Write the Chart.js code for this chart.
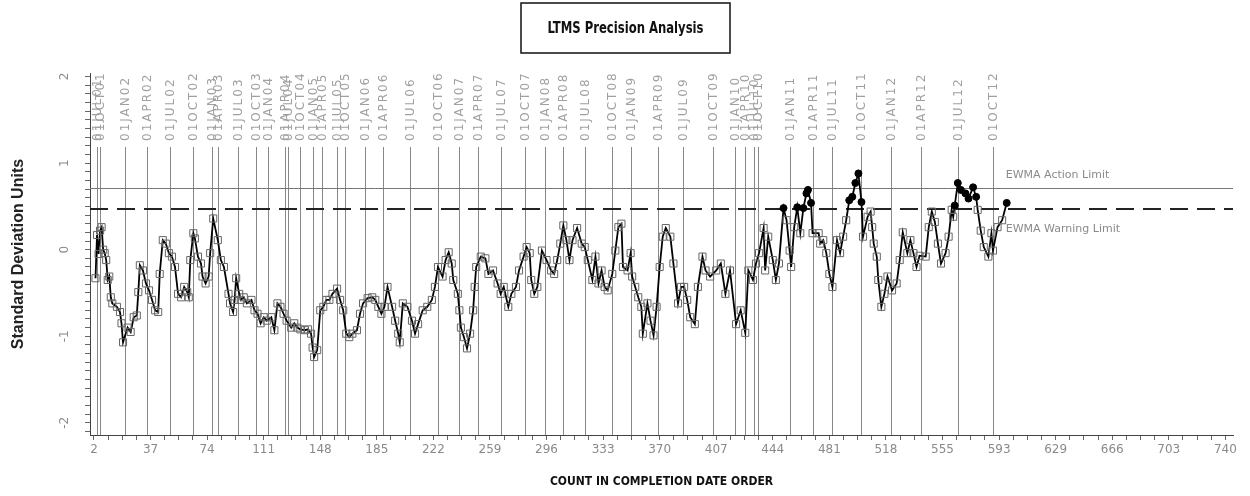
<!DOCTYPE html>
<html>
<head>
<meta charset="utf-8">
<script src="https://cdn.jsdelivr.net/npm/chart.js@4.4.0/dist/chart.umd.min.js"></script>
<style>
  html, body { margin: 0; padding: 0; background: #fff; }
  #wrap { width: 1250px; height: 496px; }
</style>
</head>
<body>
<div id="wrap"><canvas id="myChart" width="1250" height="496"></canvas></div>
<script>
// Conteo en orden de fecha de finalización
const counts = [1, 2, 3, 4, 5, 6, 7, 8, 9, 10, 11, 12, 15, 17, 18, 19, 22, 24, 26, 28,
  29, 30, 32, 34, 36, 38, 40, 42, 43, 45, 47, 49, 51, 53, 55, 57, 59, 61, 62, 63,
  65, 66, 68, 70, 71, 73, 75, 76, 78, 81, 83, 85, 88, 89, 91, 92, 93, 95, 96, 98,
  100, 103, 105, 107, 109, 111, 113, 116, 118, 120, 122, 124, 126, 129, 131, 133, 135, 138, 140, 142,
  143, 144, 146, 148, 150, 152, 154, 156, 159, 161, 163, 165, 167, 169, 172, 174, 176, 179, 182, 184,
  186, 188, 190, 192, 195, 197, 199, 200, 202, 205, 208, 210, 212, 215, 218, 221, 223, 225, 228, 230,
  232, 234, 235, 238, 239, 240, 242, 244, 246, 248, 249, 250, 253, 256, 258, 261, 264, 266, 268, 271,
  273, 276, 278, 281, 283, 285, 286, 288, 290, 293, 296, 299, 301, 303, 305, 307, 309, 311, 313, 316,
  319, 321, 323, 326, 328, 330, 332, 334, 336, 339, 341, 343, 345, 346, 349, 351, 352, 354, 356, 358,
  359, 362, 364, 366, 368, 370, 372, 374, 377, 379, 382, 384, 386, 388, 390, 393, 395, 398, 400, 403,
  407, 410, 413, 416, 420, 423, 426, 428, 431, 433, 435, 438, 439, 441, 444, 446, 448, 451, 453, 455,
  456, 458, 460, 462, 464, 466, 467, 469, 470, 474, 475, 477, 479, 481, 483, 486, 488, 490, 492, 494,
  496, 498, 500, 502, 503, 506, 508, 509, 510, 512, 513, 515, 517, 519, 522, 525, 527, 529, 532, 534,
  536, 538, 540, 544, 546, 548, 550, 552, 554, 557, 559, 561, 562, 563, 565, 567, 570, 572, 575, 577,
  578, 580, 582, 585, 587, 588, 591, 594, 597];

// Valores EWMA (unidades de desviación estándar)
const values = [-0.33, 0.17, -0.05, 0.22, 0.26, 0.0, -0.04, -0.12, -0.35, -0.31, -0.55, -0.62, -0.66, -0.72, -0.85, -1.07, -0.9, -0.95, -0.78, -0.76,
  -0.49, -0.18, -0.24, -0.39, -0.47, -0.58, -0.7, -0.72, -0.28, 0.11, 0.07, -0.04, -0.08, -0.2, -0.51, -0.55, -0.43, -0.49, -0.55, -0.12,
  0.19, 0.13, -0.08, -0.16, -0.31, -0.39, -0.31, -0.04, 0.36, 0.11, -0.12, -0.2, -0.51, -0.62, -0.72, -0.58, -0.33, -0.51, -0.58, -0.55,
  -0.62, -0.58, -0.7, -0.74, -0.85, -0.78, -0.82, -0.78, -0.93, -0.62, -0.66, -0.74, -0.82, -0.9, -0.85, -0.9, -0.92, -0.93, -0.92, -0.97,
  -1.13, -1.24, -1.16, -0.7, -0.66, -0.58, -0.58, -0.51, -0.45, -0.58, -0.7, -0.97, -1.01, -0.97, -0.93, -0.74, -0.62, -0.56, -0.55, -0.58,
  -0.66, -0.74, -0.66, -0.43, -0.66, -0.82, -0.97, -1.07, -0.62, -0.66, -0.82, -0.97, -0.86, -0.7, -0.66, -0.58, -0.43, -0.2, -0.31, -0.12,
  -0.03, -0.16, -0.35, -0.51, -0.7, -0.9, -1.01, -1.14, -0.97, -0.7, -0.43, -0.2, -0.08, -0.1, -0.28, -0.24, -0.39, -0.51, -0.43, -0.66,
  -0.51, -0.43, -0.24, -0.08, 0.03, -0.04, -0.35, -0.51, -0.43, -0.01, -0.12, -0.24, -0.28, -0.12, 0.07, 0.28, 0.11, -0.12, 0.11, 0.25,
  0.07, 0.03, -0.12, -0.35, -0.08, -0.39, -0.24, -0.43, -0.47, -0.28, -0.01, 0.26, 0.3, -0.2, -0.24, -0.04, -0.31, -0.43, -0.55, -0.66,
  -0.97, -0.62, -0.82, -0.99, -0.66, -0.2, 0.15, 0.25, 0.15, -0.16, -0.62, -0.43, -0.43, -0.58, -0.78, -0.86, -0.43, -0.08, -0.24, -0.31,
  -0.24, -0.16, -0.51, -0.24, -0.86, -0.7, -0.96, -0.24, -0.35, -0.16, -0.04, 0.25, -0.24, 0.15, -0.12, -0.35, -0.16, 0.48, 0.34, -0.01,
  -0.2, 0.26, 0.49, 0.19, 0.48, 0.65, 0.69, 0.54, 0.19, 0.19, 0.07, 0.11, -0.04, -0.28, -0.43, 0.11, -0.04, 0.15, 0.34, 0.57,
  0.61, 0.77, 0.88, 0.55, 0.15, 0.38, 0.44, 0.26, 0.07, -0.08, -0.35, -0.66, -0.51, -0.31, -0.47, -0.39, -0.12, 0.2, -0.04, 0.11,
  -0.04, -0.2, -0.07, -0.08, 0.26, 0.44, 0.32, 0.07, -0.16, -0.04, 0.15, 0.46, 0.38, 0.51, 0.77, 0.69, 0.65, 0.59, 0.72, 0.61,
  0.46, 0.22, 0.03, -0.08, 0.19, -0.01, 0.26, 0.34, 0.54];

// Fechas de referencia (líneas verticales)
const dateCounts = [2, 4, 20, 35, 50, 65, 77, 81, 94, 106, 114, 125, 127, 135, 143, 149, 159, 164, 177, 189,
  207, 225, 239, 251, 266, 282, 295, 307, 321, 339, 351, 369, 385, 405, 419, 426, 432, 434, 455, 470,
  483, 502, 521, 541, 565, 588];
const dateLabels = ["01JUL01", "01OCT01", "01JAN02", "01APR02", "01JUL02", "01OCT02", "01JAN03", "01APR03", "01JUL03", "01OCT03",
  "01JAN04", "01APR04", "01JUL04", "01OCT04", "01JAN05", "01APR05", "01JUL05", "01OCT05", "01JAN06", "01APR06",
  "01JUL06", "01OCT06", "01JAN07", "01APR07", "01JUL07", "01OCT07", "01JAN08", "01APR08", "01JUL08", "01OCT08",
  "01JAN09", "01APR09", "01JUL09", "01OCT09", "01JAN10", "01APR10", "01JUL10", "01OCT10", "01JAN11", "01APR11",
  "01JUL11", "01OCT11", "01JAN12", "01APR12", "01JUL12", "01OCT12"];

// Etiquetas del eje X (cada 37)
const xTickLabels = ["2", "37", "74", "111", "148", "185", "222", "259", "296", "333", "370",
  "407", "444", "481", "518", "555", "593", "629", "666", "703", "740"];
const yTickLabels = ["-2", "-1", "0", "1", "2"];

// Límites EWMA
const actionLimit = 0.71;
const warningLimit = 0.47;

// Plugin para líneas de fechas, límites y el título con recuadro
const decorPlugin = {
  id: "decor",
  beforeDatasetsDraw(chart) {
    const { ctx, chartArea, scales: { x, y } } = chart;
    ctx.save();
    const lineTop = chartArea.top + 74;
    dateCounts.forEach((c, i) => {
      const px = Math.round(x.getPixelForValue(c)) + 0.5;
      ctx.strokeStyle = "#888";
      ctx.lineWidth = 1;
      ctx.beginPath();
      ctx.moveTo(px, lineTop);
      ctx.lineTo(px, chartArea.bottom);
      ctx.stroke();
      // etiqueta vertical
      ctx.save();
      ctx.translate(px, lineTop - 6);
      ctx.rotate(-Math.PI / 2);
      ctx.font = '12px "DejaVu Sans"';
      ctx.letterSpacing = "2px";
      ctx.fillStyle = "#a0a0a0";
      ctx.textAlign = "left";
      ctx.textBaseline = "middle";
      ctx.fillText(dateLabels[i], 0, 0);
      ctx.restore();
    });

    // Límite de acción (línea sólida)
    const ya = Math.round(y.getPixelForValue(actionLimit)) + 0.5;
    ctx.strokeStyle = "#777";
    ctx.lineWidth = 1;
    ctx.beginPath();
    ctx.moveTo(chartArea.left, ya);
    ctx.lineTo(chartArea.right, ya);
    ctx.stroke();

    // Límite de advertencia (línea discontinua)
    const yw = Math.round(y.getPixelForValue(warningLimit));
    ctx.strokeStyle = "#222";
    ctx.lineWidth = 2;
    ctx.setLineDash([18, 9]);
    ctx.beginPath();
    ctx.moveTo(chartArea.left, yw);
    ctx.lineTo(chartArea.right, yw);
    ctx.stroke();
    ctx.setLineDash([]);

    // Textos de los límites
    const xl = x.getPixelForValue(counts[counts.length - 1]) - 1;
    ctx.font = '11px "DejaVu Sans"';
    ctx.fillStyle = "#8a8a8a";
    ctx.textAlign = "left";
    ctx.textBaseline = "middle";
    ctx.fillText("EWMA Action Limit", xl, ya - 13);
    ctx.fillText("EWMA Warning Limit", xl, yw + 20);
    ctx.restore();
  },
  afterDraw(chart) {
    const { ctx } = chart;
    ctx.save();
    // Recuadro del título
    ctx.strokeStyle = "#111";
    ctx.lineWidth = 1.5;
    ctx.strokeRect(521, 3, 209, 50);
    ctx.font = 'bold 15px "DejaVu Sans Condensed"';
    ctx.fillStyle = "#111";
    ctx.textAlign = "center";
    ctx.textBaseline = "middle";
    const texto = "LTMS Precision Analysis";
    const w = ctx.measureText(texto).width;
    ctx.translate(625.5, 29);
    if (w > 156) ctx.scale(156 / w, 1);
    ctx.fillText(texto, 0, 0);
    ctx.restore();
  },
};

const crearGrafico = () => {
  const ctx = document.getElementById("myChart").getContext("2d");
  const puntos = counts.map((c, i) => ({ x: c, y: values[i] }));
  const sobreLimite = (c) => values[c.dataIndex] > warningLimit;

  new Chart(ctx, {
    type: "scatter",
    data: {
      datasets: [
        {
          data: puntos,
          showLine: true,
          borderColor: "#000",
          borderWidth: 1.8,
          tension: 0,
          pointStyle: (c) => (sobreLimite(c) ? "circle" : "rect"),
          pointRadius: (c) => (sobreLimite(c) ? 3.5 : 5),
          pointBackgroundColor: (c) => (sobreLimite(c) ? "#000" : "rgba(0,0,0,0)"),
          pointBorderColor: (c) => (sobreLimite(c) ? "#000" : "#666"),
          pointBorderWidth: 1,
        },
      ],
    },
    options: {
      responsive: false,
      animation: false,
      layout: { padding: { top: 73, right: 17, bottom: 0, left: 0 } },
      plugins: { legend: { display: false }, tooltip: { enabled: false } },
      scales: {
        x: {
          type: "linear",
          min: -2.6,
          max: 745,
          afterFit: (s) => { s.height = 61; },
          grid: { drawOnChartArea: false, tickLength: 5, color: "#666" },
          border: { color: "#444", width: 1 },
          ticks: {
            stepSize: 9.25,
            autoSkip: false,
            includeBounds: false,
            maxRotation: 0,
            padding: 3,
            color: "#8a8a8a",
            font: { family: "DejaVu Sans", size: 12 },
            callback: (v) => {
              const k = Math.round(v / 37);
              return Math.abs(v - k * 37) < 0.01 ? xTickLabels[k] : "";
            },
          },
          title: {
            display: true,
            text: "COUNT IN COMPLETION DATE ORDER",
            color: "#111",
            font: { family: "DejaVu Sans Condensed", size: 12, weight: "bold" },
            padding: { top: 0, bottom: 7 },
          },
        },
        y: {
          min: -2.14,
          max: 2.04,
          afterFit: (s) => { s.width = 90; },
          grid: { drawOnChartArea: false, tickLength: 5, color: "#666" },
          border: { color: "#444", width: 1 },
          ticks: {
            stepSize: 0.1,
            autoSkip: false,
            includeBounds: false,
            minRotation: 90,
            maxRotation: 90,
            crossAlign: "center",
            padding: 14,
            color: "#8a8a8a",
            font: { family: "DejaVu Sans", size: 12 },
            callback: (v) => {
              const k = Math.round(v);
              return Math.abs(v - k) < 0.001 ? yTickLabels[k + 2] : "";
            },
          },
          title: {
            display: true,
            text: "Standard Deviation Units",
            color: "#222",
            font: { family: "Liberation Sans", size: 16, weight: "bold" },
            padding: { top: 9, bottom: 0 },
          },
        },
      },
    },
    plugins: [decorPlugin],
  });
};

crearGrafico();
</script>
</body>
</html>
